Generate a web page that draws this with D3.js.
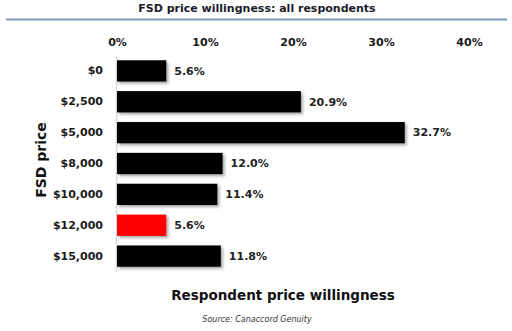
<!DOCTYPE html>
<html>
<head>
<meta charset="utf-8">
<script src="https://cdn.jsdelivr.net/npm/d3@7/dist/d3.min.js"></script>
<style>
  html, body { margin: 0; padding: 0; background: #fff; }
  svg { display: block; font-family: "DejaVu Sans", Verdana, sans-serif; }
</style>
</head>
<body>
<svg id="chart" width="512" height="331"></svg>
<script>
// FSD price points and share of respondents willing to pay each
const categories = ["$0", "$2,500", "$5,000", "$8,000", "$10,000", "$12,000", "$15,000"];
const values = [5.6, 20.9, 32.7, 12.0, 11.4, 5.6, 11.8];
const highlighted = ["$12,000"];
const tickValues = [0, 10, 20, 30, 40];

const svg = d3.select("#chart");

const x = d3.scaleLinear().domain([0, 40]).range([117, 469]);
const y = d3.scaleBand().domain(categories).range([55, 272]).paddingInner(0.31).paddingOuter(0.17);

// drop shadow for the bars
const defs = svg.append("defs");
const f = defs.append("filter").attr("id", "shadow").attr("x", "-10%").attr("y", "-30%").attr("width", "130%").attr("height", "180%");
f.append("feDropShadow").attr("dx", 2).attr("dy", 2).attr("stdDeviation", 1.5).attr("flood-color", "#000").attr("flood-opacity", 0.35);

// title and rule
svg.append("text").attr("x", 257).attr("y", 12).attr("text-anchor", "middle")
  .attr("font-size", 11).attr("font-weight", "bold").attr("fill", "#1b1b2b")
  .text("FSD price willingness: all respondents");
svg.append("line").attr("x1", 6).attr("x2", 507).attr("y1", 19.5).attr("y2", 19.5)
  .attr("stroke", "#7d9cc0").attr("stroke-width", 2);

// top value axis (labels only)
const xAxis = d3.axisTop(x).tickValues(tickValues).tickFormat(d => d + "%").tickSize(0).tickPadding(0);
const gx = svg.append("g").attr("transform", "translate(0,46)").call(xAxis);
gx.select(".domain").remove();
gx.selectAll("text").attr("font-size", 11).attr("font-weight", "bold").attr("fill", "#1a1a1a")
  .attr("font-family", "DejaVu Sans, Verdana, sans-serif");

// category axis
const yAxis = d3.axisLeft(y).tickSize(0).tickPadding(13);
const gy = svg.append("g").attr("transform", "translate(116,0)").call(yAxis);
gy.select(".domain").attr("stroke", "#d9d9d9").attr("stroke-width", 1.5);
gy.selectAll("text").attr("font-size", 11).attr("font-weight", "bold").attr("fill", "#1a1a1a")
  .attr("font-family", "DejaVu Sans, Verdana, sans-serif");

// bars
svg.append("g").selectAll("rect").data(categories).join("rect")
  .attr("x", x(0))
  .attr("y", d => y(d))
  .attr("width", (d, i) => x(values[i]) - x(0))
  .attr("height", y.bandwidth())
  .attr("fill", d => highlighted.includes(d) ? "#ff0000" : "#000000")
  .attr("filter", "url(#shadow)");

// value labels
svg.append("g").selectAll("text").data(categories).join("text")
  .attr("x", (d, i) => x(values[i]) + 8)
  .attr("y", d => y(d) + y.bandwidth() / 2)
  .attr("dy", "0.35em")
  .attr("font-size", 11).attr("font-weight", "bold").attr("fill", "#222")
  .text((d, i) => values[i].toFixed(1) + "%");

// axis titles
svg.append("text").attr("transform", "translate(46,160) rotate(-90)").attr("text-anchor", "middle")
  .attr("font-size", 14).attr("font-weight", "bold").attr("fill", "#111")
  .text("FSD price");
svg.append("text").attr("x", 283).attr("y", 300).attr("text-anchor", "middle")
  .attr("font-size", 13.5).attr("font-weight", "bold").attr("fill", "#111")
  .text("Respondent price willingness");

// source note
svg.append("text").attr("x", 257).attr("y", 322).attr("text-anchor", "middle")
  .attr("font-size", 8).attr("font-style", "italic").attr("fill", "#333")
  .text("Source: Canaccord Genuity");
</script>
</body>
</html>
